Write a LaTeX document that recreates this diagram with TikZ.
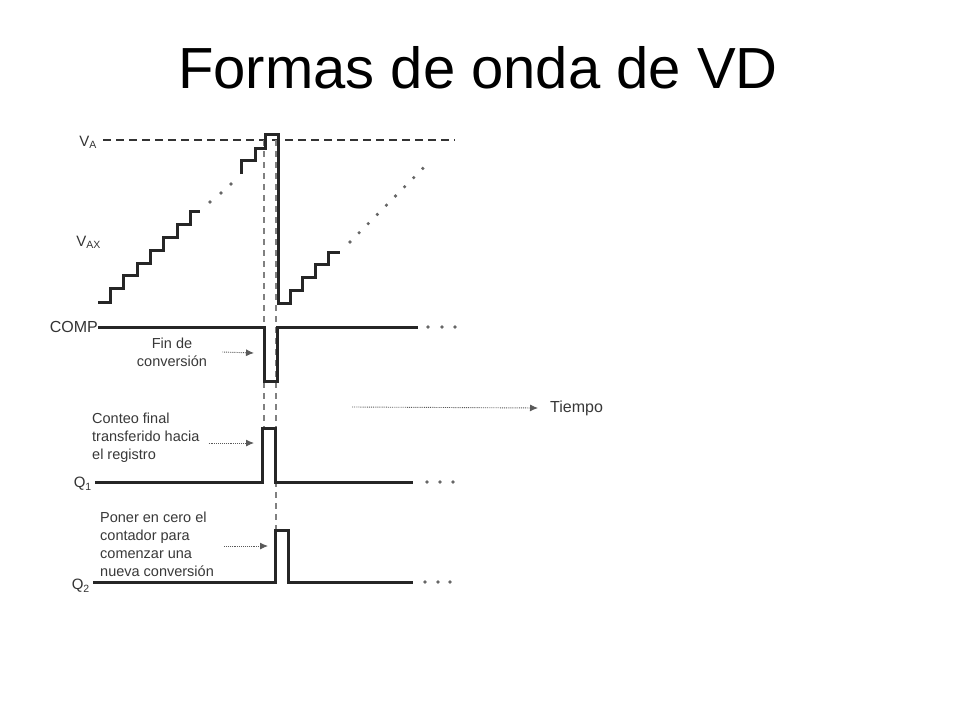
\documentclass[tikz,border=0pt]{standalone}
\usepackage{fontspec}
\setmainfont{Liberation Sans}
\usetikzlibrary{arrows.meta}

\tikzset{
  wave/.style = {line width=3pt, black!85, line join=miter},
  guide/.style = {line width=1.4pt, black!50, dash pattern=on 6pt off 5pt},
  refline/.style = {line width=2.8pt, black!80, dash pattern=on 8pt off 5pt},
  ptr/.style = {line width=0.9pt, black!65, densely dotted, -{Latex[length=8pt,width=7pt]}},
  dotmark/.style = {fill=black!60},
  note/.style = {font=\fontsize{14.5}{18}\selectfont, text=black!78, inner sep=0pt, align=left},
  sig/.style = {font=\fontsize{15}{18}\selectfont, text=black!80, inner sep=0pt}
}

\begin{document}
\begin{tikzpicture}[x=1pt, y=-1pt]
			\useasboundingbox (0,0) rectangle (960,720);
			
			\node[anchor=base, font=\fontsize{58}{70}\selectfont] (title) at (478,88) {Formas de onda de VD};
			
			% tension de referencia y escalera
			\draw[refline] (103,140) -- (455,140);
			\draw[guide] (264,140) -- (264,428);
			\draw[guide] (276,140) -- (276,530);
			
			\node[sig, anchor=east] (va) at (97,142) {V\textsubscript{A}};
			\node[sig, anchor=east] (vax) at (101,242) {V\textsubscript{AX}};
			
			\draw[wave] (98,302) -- (110,302)
			  -- (110,288) -- (123,288) -- (123,275) -- (137,275)
			  -- (137,263) -- (150,263) -- (150,250) -- (163,250)
			  -- (163,237) -- (177,237) -- (177,224) -- (190,224)
			  -- (190,211) -- (200,211);
			\foreach \x/\y in {210/202, 221/193, 231/184}
			  \fill[dotmark] (\x,\y) circle (1.8pt);
			
			\draw[wave] (241,174) -- (241,160) -- (255,160) -- (255,148)
			  -- (265,148) -- (265,134) -- (278,134) -- (278,303)
			  -- (290,303) -- (290,290) -- (302,290) -- (302,277)
			  -- (315,277) -- (315,264) -- (328,264) -- (328,252) -- (340,252);
			\foreach \i in {0,...,8}
			  \fill[dotmark] ({350+9.1*\i},{242-9.2*\i}) circle (1.8pt);
			
			% COMP
			\node[sig, anchor=east, font=\fontsize{16}{18}\selectfont] (comp) at (98,327) {COMP};
			\draw[wave] (98,327) -- (264,327) -- (264,381) -- (277,381) -- (277,327) -- (418,327);
			\foreach \x in {428,442,455}
			  \fill[dotmark] (\x,327) circle (1.8pt);
			\node[note, align=center] (fin) at (172,352) {Fin de\\conversión};
			\coordinate (finend) at (254,353);
			\draw[ptr] ([xshift=15pt]fin.east) -- (finend);
			
			% Q1
			\node[sig, anchor=east] (qa) at (92,484) {Q\textsubscript{1}};
			\draw[wave] (95,482) -- (262,482) -- (262,428) -- (275,428) -- (275,482) -- (413,482);
			\foreach \x in {427,440,453}
			  \fill[dotmark] (\x,482) circle (1.8pt);
			\node[note, anchor=west] (conteo) at (92,438) {Conteo final\\transferido hacia\\el registro};
			\coordinate (conteoend) at (254,443);
			\draw[ptr] ([xshift=9pt,yshift=-5pt]conteo.east) -- (conteoend);
			
			% Q2
			\node[sig, anchor=east] (qb) at (90,586) {Q\textsubscript{2}};
			\draw[wave] (93,582) -- (275,582) -- (275,530) -- (288,530) -- (288,582) -- (413,582);
			\foreach \x in {425,438,450}
			  \fill[dotmark] (\x,582) circle (1.8pt);
			\node[note, anchor=west] (poner) at (100,544) {Poner en cero el\\contador para\\comenzar una\\nueva conversión};
			\coordinate (ponerend) at (268,546);
			\draw[ptr] ([xshift=10pt,yshift=-2pt]poner.east) -- (ponerend);
			
			% eje de tiempo
			\coordinate (tstart) at (352,407);
			\node[note, anchor=west, font=\fontsize{16}{18}\selectfont] (tiempo) at (550,408) {Tiempo};
			\draw[ptr] (tstart) -- ([xshift=-12pt]tiempo.west);
		\end{tikzpicture}
\end{document}
